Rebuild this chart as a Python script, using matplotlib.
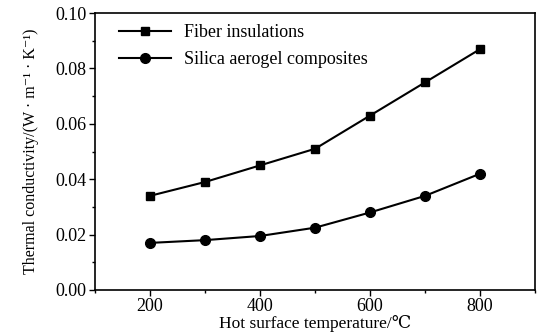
import matplotlib
matplotlib.use("Agg")
import matplotlib.pyplot as plt
from matplotlib.ticker import MultipleLocator

temps = [200, 300, 400, 500, 600, 700, 800]
fiber = [0.034, 0.039, 0.045, 0.051, 0.063, 0.075, 0.087]
silica = [0.017, 0.018, 0.0195, 0.0225, 0.028, 0.034, 0.042]
xticks = [200, 400, 600, 800]
yticks = [0.00, 0.02, 0.04, 0.06, 0.08, 0.10]

plt.rcParams['font.family'] = ['Liberation Serif', 'DejaVu Serif']

fig = plt.figure(figsize=(5.4, 3.36), dpi=100)
ax = fig.add_axes([0.176, 0.137, 0.815, 0.824])
ax.plot(temps, fiber, color='black', marker='s', markersize=6, lw=1.5, label='Fiber insulations')
ax.plot(temps, silica, color='black', marker='o', markersize=7, lw=1.5, label='Silica aerogel composites')
ax.set_xlim(100, 900)
ax.set_ylim(0, 0.10)
ax.set_xticks(xticks)
ax.set_yticks(yticks)
ax.set_yticklabels([f"{v:.2f}" for v in yticks])
ax.xaxis.set_minor_locator(MultipleLocator(100))
ax.yaxis.set_minor_locator(MultipleLocator(0.01))
ax.tick_params(which='major', direction='out', length=4, width=1, labelsize=13, pad=2)
ax.tick_params(which='minor', direction='out', length=2.5, width=1)
for s in ax.spines.values():
    s.set_linewidth(1.2)
ax.set_xlabel('Hot surface temperature/℃', fontsize=12.5, labelpad=0)
ax.set_ylabel('Thermal conductivity/(W · m⁻¹ · K⁻¹)', fontsize=11.5, labelpad=12)
ax.legend(loc='upper left', bbox_to_anchor=(0.03, 1.0), frameon=False, fontsize=13,
          handlelength=2.9, handletextpad=0.7, borderaxespad=0.2, labelspacing=0.55)
fig.savefig('out.png', dpi=100)
